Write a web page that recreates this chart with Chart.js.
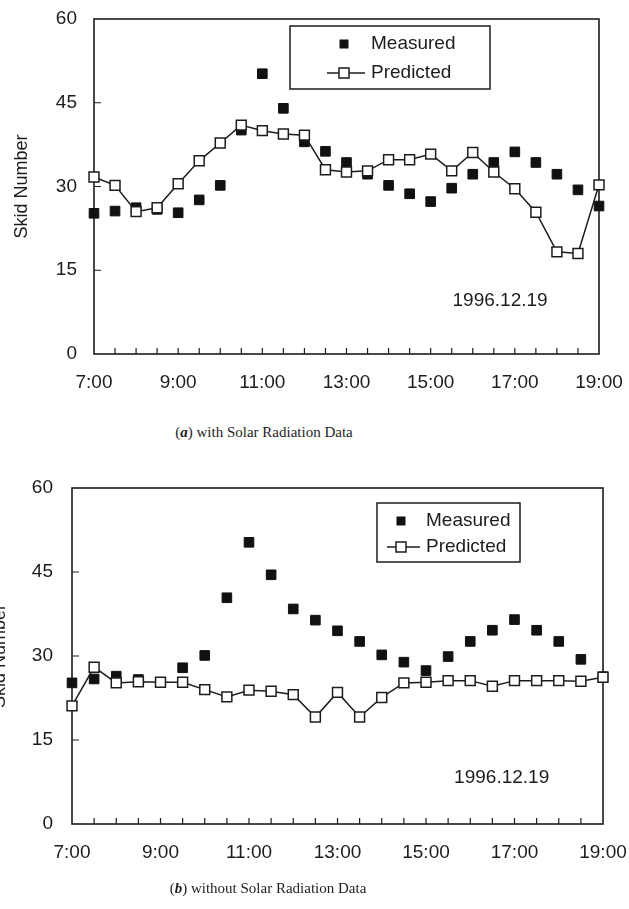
<!DOCTYPE html>
<html><head><meta charset="utf-8">
<script src="https://cdn.jsdelivr.net/npm/chart.js@4.4.0/dist/chart.umd.min.js"></script>
<style>
html,body{margin:0;padding:0;background:#fff;width:629px;height:909px;overflow:hidden;position:relative}
.wrap{position:absolute}
.cap{position:absolute;font-family:"Liberation Serif","Times New Roman",serif;font-size:15px;color:#1e1e1e;white-space:nowrap;transform:translateX(-50%)}
.cap i{font-weight:bold}
</style></head><body>
<div class="wrap" style="left:0;top:0;width:629px;height:420px"><canvas id="ca"></canvas></div>
<div class="wrap" style="left:-22px;top:469px;width:651px;height:420px"><canvas id="cb"></canvas></div>
<div class="cap" style="left:264px;top:424px">(<i>a</i>) with Solar Radiation Data</div>
<div class="cap" style="left:268px;top:880px">(<i>b</i>) without Solar Radiation Data</div>
<script>
// ---- data ----
const timeLabels = ['7:00','7:30','8:00','8:30','9:00','9:30','10:00','10:30','11:00','11:30','12:00','12:30',
  '13:00','13:30','14:00','14:30','15:00','15:30','16:00','16:30','17:00','17:30','18:00','18:30','19:00'];
const xTickLabels = ['7:00','9:00','11:00','13:00','15:00','17:00','19:00'];
const yTickValues = [0, 15, 30, 45, 60];
const seriesNames = ['Measured', 'Predicted'];
const yTitle = 'Skid Number';
const dateText = '1996.12.19';

const measuredA  = [25.2,25.6,26.2,25.9,25.3,27.6,30.2,40.1,50.2,44.0,38.0,36.3,34.3,32.2,30.2,28.7,27.3,29.7,32.2,34.3,36.2,34.3,32.2,29.4,26.5];
const predictedA = [31.7,30.2,25.5,26.2,30.5,34.6,37.8,41.0,40.0,39.4,39.2,33.0,32.6,32.8,34.8,34.8,35.8,32.8,36.1,32.6,29.6,25.4,18.3,18.0,30.3];
const measuredB  = [25.2,25.9,26.4,25.8,25.3,27.9,30.1,40.4,50.3,44.5,38.4,36.4,34.5,32.6,30.2,28.9,27.4,29.9,32.6,34.6,36.5,34.6,32.6,29.4,26.3];
const predictedB = [21.1,28.0,25.2,25.4,25.3,25.3,24.0,22.7,23.9,23.7,23.1,19.1,23.5,19.1,22.6,25.2,25.3,25.6,25.6,24.6,25.6,25.6,25.6,25.5,26.2];

const toHours = s => { const [h, m] = s.split(':').map(Number); return h + m / 60; };
const hours = timeLabels.map(toHours);
const ink = '#1c1c1c';
const sans = '"Liberation Sans", Arial, Helvetica, sans-serif';

const decor = {
  id: 'decor',
  beforeDatasetsDraw(chart, args, o) {
    const {ctx, chartArea: a, scales: {x, y}} = chart;
    ctx.save();
    ctx.strokeStyle = ink;
    ctx.lineWidth = 1.6;
    ctx.strokeRect(a.left, a.top, a.right - a.left, a.bottom - a.top);
    ctx.lineWidth = 1.2;
    ctx.beginPath();
    hours.slice(1, -1).forEach(h => {
      const px = x.getPixelForValue(h);
      ctx.moveTo(px, a.bottom); ctx.lineTo(px, a.bottom - 6);
    });
    yTickValues.slice(1, -1).forEach(v => {
      const py = y.getPixelForValue(v);
      ctx.moveTo(a.left, py); ctx.lineTo(a.left + 7, py);
    });
    ctx.stroke();
    ctx.restore();
  },
  afterDatasetsDraw(chart, args, o) {
    const {ctx, chartArea: a, scales: {x, y}} = chart;
    const L = o.legend;
    ctx.save();
    ctx.fillStyle = '#fff';
    ctx.fillRect(a.left + L.left, a.top + L.top, L.w, L.h);
    ctx.strokeStyle = ink; ctx.lineWidth = 1.5;
    ctx.strokeRect(a.left + L.left, a.top + L.top, L.w, L.h);
    const mx = a.left + L.marker, tx = a.left + L.text;
    const r1 = a.top + L.row1, r2 = a.top + L.row2;
    ctx.fillStyle = '#111';
    ctx.fillRect(mx - 4.5, r1 - 4.5, 9, 9);
    ctx.lineWidth = 1.5;
    ctx.beginPath(); ctx.moveTo(a.left + L.l1, r2); ctx.lineTo(a.left + L.l2, r2); ctx.stroke();
    ctx.fillStyle = '#fff';
    ctx.fillRect(mx - 5, r2 - 5, 10, 10);
    ctx.strokeRect(mx - 5, r2 - 5, 10, 10);
    ctx.fillStyle = ink;
    ctx.font = '19px ' + sans;
    ctx.textBaseline = 'middle'; ctx.textAlign = 'left';
    ctx.fillText(seriesNames[0], tx, r1);
    ctx.fillText(seriesNames[1], tx, r2);
    ctx.textAlign = 'center';
    ctx.fillText(dateText, x.getPixelForValue(o.date[0]), y.getPixelForValue(o.date[1]));
    ctx.restore();
  }
};

function makeChart(id, measured, predicted, cfg) {
  return new Chart(document.getElementById(id), {
    type: 'line',
    data: {
      datasets: [
        { label: seriesNames[0], data: hours.map((h, i) => ({x: h, y: measured[i]})),
          showLine: false, pointStyle: 'rect', pointRadius: 6.8, pointHoverRadius: 6.8, pointBackgroundColor: '#111',
          pointBorderColor: '#111', pointBorderWidth: 1, order: 2, clip: false },
        { label: seriesNames[1], data: hours.map((h, i) => ({x: h, y: predicted[i]})),
          borderColor: ink, borderWidth: 1.5, tension: 0, pointStyle: 'rect', pointRadius: 7, pointHoverRadius: 7,
          pointBackgroundColor: '#fff', pointBorderColor: ink, pointBorderWidth: 1.5, order: 1, clip: false }
      ]
    },
    options: {
      responsive: true, maintainAspectRatio: false, animation: false, devicePixelRatio: 1,
      layout: { autoPadding: false, padding: { left: 0, top: 19, right: cfg.padRight, bottom: 0 } },
      plugins: { legend: { display: false }, tooltip: { enabled: false }, decor: cfg.decor },
      scales: {
        x: {
          type: 'linear', min: 7, max: 19,
          afterBuildTicks: s => { s.ticks = xTickLabels.map(t => ({value: toHours(t)})); },
          afterFit: s => { s.height = cfg.xHeight; s.paddingLeft = 0; s.paddingRight = 0; },
          ticks: { callback: (v, i) => xTickLabels[i], color: ink, font: {family: sans, size: 19}, padding: 17, maxRotation: 0, autoSkip: false },
          grid: { display: false, drawTicks: false, tickLength: 0 },
          border: { display: false }
        },
        y: {
          min: 0, max: 60,
          afterBuildTicks: s => { s.ticks = yTickValues.map(v => ({value: v})); },
          afterFit: s => { s.width = 94; s.paddingTop = 0; s.paddingBottom = 0; },
          ticks: { color: ink, font: {family: sans, size: 19}, padding: cfg.yPad },
          grid: { display: false, drawTicks: false, tickLength: 0 },
          border: { display: false },
          title: { display: true, text: yTitle, color: ink, font: {family: sans, size: 18}, padding: {top: 11, bottom: 0} }
        }
      }
    },
    plugins: [decor]
  });
}

makeChart('ca', measuredA, predictedA, {
  padRight: 30, xHeight: 66, yPad: 17,
  decor: { legend: {left: 196, top: 7, w: 200, h: 63, marker: 250, text: 277, row1: 25, row2: 54, l1: 233, l2: 271},
           date: [16.65, 9.5] }
});
makeChart('cb', measuredB, predictedB, {
  padRight: 26, xHeight: 65, yPad: 19,
  decor: { legend: {left: 305, top: 15, w: 143, h: 59, marker: 329, text: 354, row1: 33, row2: 59, l1: 315, l2: 348},
           date: [16.71, 8.2] }
});
</script>
</body></html>
